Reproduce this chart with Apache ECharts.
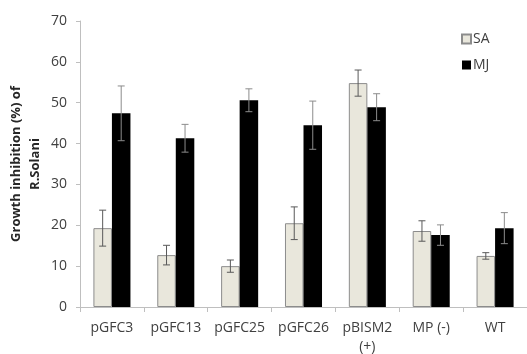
<!DOCTYPE html>
<html><head><meta charset="utf-8">
<script src="https://cdn.jsdelivr.net/npm/echarts@6/dist/echarts.min.js"></script>
<style>html,body{margin:0;padding:0;background:#fff}#c{width:527px;height:354px}</style>
</head><body><div id="c"></div>
<script>
const categories = ['pGFC3', 'pGFC13', 'pGFC25', 'pGFC26', 'pBISM2\n(+)', 'MP (-)', 'WT'];
const saValues = [19.3, 12.7, 10.0, 20.5, 54.8, 18.6, 12.5];
const saErrors = [4.4, 2.4, 1.5, 4.0, 3.2, 2.5, 0.8];
const mjValues = [47.4, 41.3, 50.6, 44.5, 48.9, 17.6, 19.3];
const mjErrors = [6.7, 3.4, 2.8, 5.9, 3.3, 2.5, 3.8];
const yTicks = [0, 10, 20, 30, 40, 50, 60, 70];

const BAR_FRAC = 0.29;
function errSeries(values, errors, sign, color) {
  return {
    type: 'custom',
    z: 10,
    silent: true,
    data: values.map((v, i) => [i, v, errors[i]]),
    renderItem: function (params, api) {
      const i = api.value(0), v = api.value(1), e = api.value(2);
      const band = api.size([1, 0])[0];
      const off = sign * band * BAR_FRAC / 2;
      const hi = api.coord([i, v + e]);
      const lo = api.coord([i, v - e]);
      const x = hi[0] + off;
      const cap = 3.5;
      const style = { stroke: color, lineWidth: 1 };
      return { type: 'group', children: [
        { type: 'line', shape: { x1: x, y1: hi[1], x2: x, y2: lo[1] }, style: style },
        { type: 'line', shape: { x1: x - cap, y1: hi[1], x2: x + cap, y2: hi[1] }, style: style },
        { type: 'line', shape: { x1: x - cap, y1: lo[1], x2: x + cap, y2: lo[1] }, style: style }
      ]};
    }
  };
}

const chart = echarts.init(document.getElementById('c'), null, { renderer: 'canvas' });
chart.setOption({
  animation: false,
  backgroundColor: '#fff',
  textStyle: { fontFamily: 'Open Sans' },
  grid: { left: 80, right: 0, top: 21, bottom: 47, outerBoundsMode: 'none', containLabel: false },
  legend: {
    orient: 'vertical', left: 456, top: 27, itemGap: 12,
    itemWidth: 9, itemHeight: 9, icon: 'rect',
    textStyle: { color: '#404040', fontSize: 14, fontFamily: 'Open Sans', padding: [0, 0, 0, -3] },
    data: ['SA', 'MJ']
  },
  xAxis: {
    type: 'category', data: categories,
    axisLine: { lineStyle: { color: '#bfbfbf' } },
    axisTick: { show: true, length: 5, lineStyle: { color: '#bfbfbf' } },
    axisLabel: { color: '#404040', fontSize: 14, margin: 12, lineHeight: 19, interval: 0, hideOverlap: false }
  },
  yAxis: {
    type: 'value', min: yTicks[0], max: yTicks[yTicks.length - 1], interval: 10,
    axisLine: { show: true, lineStyle: { color: '#bfbfbf' } },
    axisTick: { show: true, length: 4, lineStyle: { color: '#bfbfbf' } },
    splitLine: { show: false },
    axisLabel: { color: '#404040', fontSize: 14, margin: 13 },
    name: 'Growth inhibition (%) of\nR.Solani',
    nameLocation: 'middle', nameGap: 35, nameRotate: 90, nameMoveOverlap: false,
    nameTextStyle: { color: '#262626', fontSize: 13, fontWeight: 'bold', lineHeight: 19 }
  },
  series: [
    { name: 'SA', type: 'bar', data: saValues, barWidth: (BAR_FRAC * 100) + '%', barGap: '0%',
      itemStyle: { color: '#e9e7dc', borderColor: '#8c8c8c', borderWidth: 1 } },
    { name: 'MJ', type: 'bar', data: mjValues, barWidth: (BAR_FRAC * 100) + '%', barGap: '0%',
      itemStyle: { color: '#000000' } },
    errSeries(saValues, saErrors, -1, '#595959'),
    errSeries(mjValues, mjErrors, 1, '#8c8c8c')
  ]
});
</script></body></html>
